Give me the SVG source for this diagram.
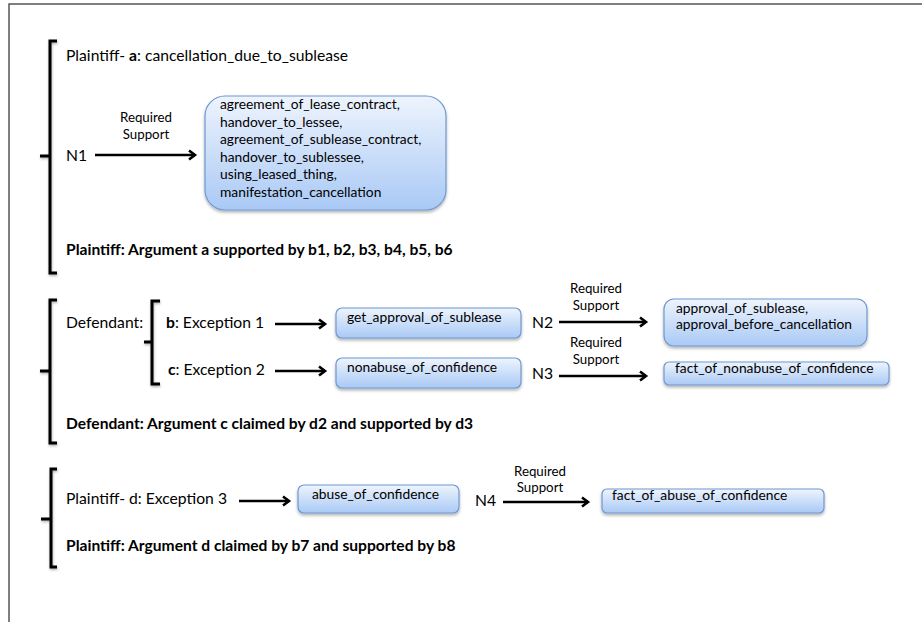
<svg xmlns="http://www.w3.org/2000/svg" width="922" height="622" viewBox="0 0 922 622">
<defs>
<linearGradient id="g" x1="0" y1="0" x2="0" y2="1">
<stop offset="0" stop-color="#eef4fd"/>
<stop offset="1" stop-color="#a9c9f5"/>
</linearGradient>
<filter id="sh" x="-10%" y="-10%" width="120%" height="130%">
<feDropShadow dx="0" dy="2" stdDeviation="1.5" flood-color="#000" flood-opacity="0.3"/>
</filter>
<filter id="bs" x="-50%" y="-5%" width="200%" height="110%">
<feDropShadow dx="0.5" dy="1.5" stdDeviation="1" flood-color="#000" flood-opacity="0.3"/>
</filter>
<marker id="ah" markerWidth="12" markerHeight="12" refX="9" refY="6" orient="auto" markerUnits="userSpaceOnUse">
<polyline points="3,1.5 9,6 3,10.5" fill="none" stroke="#000" stroke-width="2.6"/>
</marker>
<style>
text{font-family:Lato,"Liberation Sans",sans-serif;fill:#000}
.t{font-size:15.7px}
.b{font-size:15.6px;font-weight:bold}
.s{font-size:13.3px}
.bx{font-size:13.8px}
.box{fill:url(#g);stroke:#6f98cf;stroke-width:1.2;filter:url(#sh)}
.br{fill:none;stroke:#000;stroke-width:3;filter:url(#bs)}
.ar{fill:none;stroke:#000;stroke-width:2.6;marker-end:url(#ah)}
</style>
</defs>
<rect width="922" height="622" fill="#fff"/>
<path d="M9,622 V4 H922" fill="none" stroke="#555" stroke-width="1.5"/>

<g id="bracket1"><path class="br" d="M57,41 H50 V273 H57 M50,156 H40"/></g>
<g id="bracket2"><path class="br" d="M57,300 H50 V443 H57 M50,371 H40"/></g>
<g id="bracket2b"><path class="br" d="M160,301 H152 V384 H160 M152,342 H144"/></g>
<g id="bracket3"><path class="br" d="M57,469 H51 V567 H57 M51,519 H41"/></g>

<g id="a"><text class="t" x="66" y="61">Plaintiff- <tspan font-weight="bold">a</tspan>: cancellation_due_to_sublease</text></g>
<g id="N1"><text class="t" x="66" y="161">N1</text></g>
<g id="box1">
<rect class="box" x="205" y="96" width="241" height="114" rx="20"/>
<text class="bx" x="220" y="109">agreement_of_lease_contract,</text>
<text class="bx" x="220" y="126.5">handover_to_lessee,</text>
<text class="bx" x="220" y="144">agreement_of_sublease_contract,</text>
<text class="bx" x="220" y="161.5">handover_to_sublessee,</text>
<text class="bx" x="220" y="179">using_leased_thing,</text>
<text class="bx" x="220" y="196.5">manifestation_cancellation</text>
</g>
<g id="sumA"><text class="b" x="66" y="255">Plaintiff: Argument a supported by b1, b2, b3, b4, b5, b6</text></g>

<g id="def"><text class="t" x="66" y="328">Defendant:</text></g>
<g id="b"><text class="t" x="166" y="328"><tspan font-weight="bold">b</tspan>: Exception 1</text></g>
<g id="c"><text class="t" x="168" y="375"><tspan font-weight="bold">c</tspan>: Exception 2</text></g>
<g id="box2">
<rect class="box" x="336" y="308" width="185" height="30" rx="6"/>
<text class="bx" x="347" y="322">get_approval_of_sublease</text>
</g>
<g id="box3">
<rect class="box" x="336" y="358" width="185" height="30" rx="6"/>
<text class="bx" x="347" y="372">nonabuse_of_confidence</text>
</g>
<g id="N2"><text class="t" x="532" y="328">N2</text></g>
<g id="N3"><text class="t" x="532" y="379">N3</text></g>
<g id="box4">
<rect class="box" x="664" y="299" width="203" height="47" rx="10"/>
<text class="bx" x="676" y="313">approval_of_sublease,</text>
<text class="bx" x="676" y="329">approval_before_cancellation</text>
</g>
<g id="box5">
<rect class="box" x="664" y="362" width="225" height="23" rx="5"/>
<text class="bx" x="675" y="373">fact_of_nonabuse_of_confidence</text>
</g>
<g id="sumC"><text class="b" x="66" y="429">Defendant: Argument c claimed by d2 and supported by d3</text></g>

<g id="d"><text class="t" x="66" y="504">Plaintiff- d: Exception 3</text></g>
<g id="box6">
<rect class="box" x="298" y="485" width="161" height="28" rx="6"/>
<text class="bx" x="312" y="499">abuse_of_confidence</text>
</g>
<g id="N4"><text class="t" x="475" y="506">N4</text></g>
<g id="box7">
<rect class="box" x="602" y="489" width="222" height="24" rx="5"/>
<text class="bx" x="612" y="500">fact_of_abuse_of_confidence</text>
</g>
<g id="sumD"><text class="b" x="66" y="551">Plaintiff: Argument d claimed by b7 and supported by b8</text></g>

<g id="connectors">
<path class="ar" d="M95,155 H195"/>
<text class="s" x="146" y="122" text-anchor="middle">Required</text>
<text class="s" x="146" y="139" text-anchor="middle">Support</text>
<path class="ar" d="M275,324 H325"/>
<path class="ar" d="M275,371 H325"/>
<path class="ar" d="M559,322 H646"/>
<text class="s" x="596" y="293" text-anchor="middle">Required</text>
<text class="s" x="596" y="310" text-anchor="middle">Support</text>
<path class="ar" d="M559,376 H646"/>
<text class="s" x="596" y="347" text-anchor="middle">Required</text>
<text class="s" x="596" y="364" text-anchor="middle">Support</text>
<path class="ar" d="M239,501 H289"/>
<path class="ar" d="M503,502 H588"/>
<text class="s" x="540" y="476" text-anchor="middle">Required</text>
<text class="s" x="540" y="492" text-anchor="middle">Support</text>
</g>
</svg>
